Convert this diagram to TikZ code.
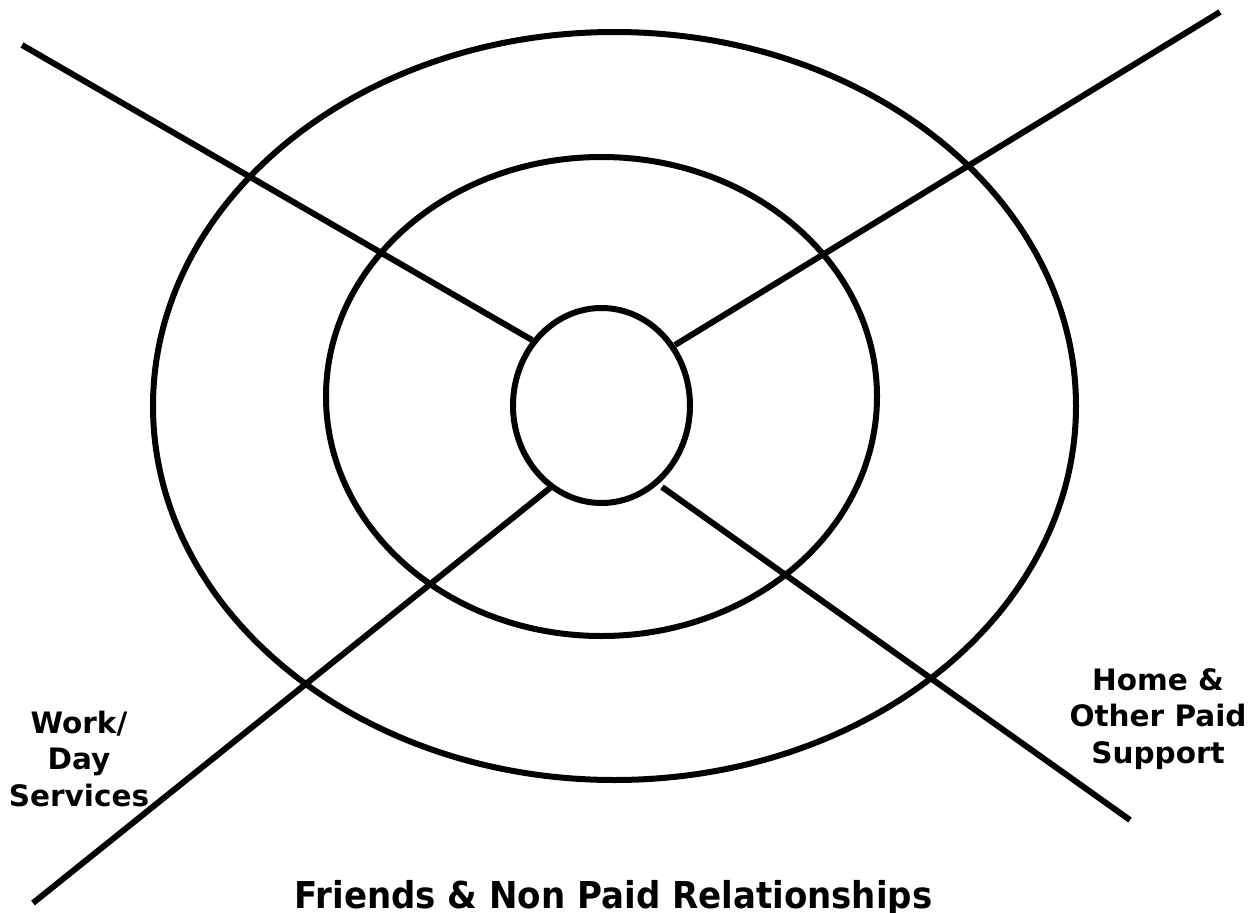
\documentclass[tikz,border=0pt]{standalone}
\usepackage{fontspec}
\setmainfont{DejaVu Sans}
\begin{document}
\begin{tikzpicture}[x=1pt,y=-1pt,
  ring/.style={draw=black,line width=6pt},
  spoke/.style={draw=black,line width=6pt},
  sidelabel/.style={align=center,inner sep=0pt,font=\bfseries\fontsize{29.5}{36.5}\selectfont},
  footlabel/.style={inner sep=0pt,font=\bfseries\fontsize{37}{42}\selectfont}]
\useasboundingbox (0,0) rectangle (1254,913);
% rings
\draw[ring] (614.5,406) ellipse [x radius=461.5, y radius=374];
\draw[ring] (601.5,396.5) ellipse [x radius=275.5, y radius=239.5];
\draw[ring] (601.5,405.5) ellipse [x radius=88.5, y radius=97.5];
% spoke end points
\coordinate (a1) at (22,45);   \coordinate (a2) at (532,340);
\coordinate (b1) at (675,345); \coordinate (b2) at (1220,12);
\coordinate (c1) at (550,488); \coordinate (c2) at (33,903);
\coordinate (d1) at (662,487); \coordinate (d2) at (1130,820);
\draw[spoke] (a1) -- (a2);
\draw[spoke] (b1) -- (b2);
\draw[spoke] (c1) -- (c2);
\draw[spoke] (d1) -- (d2);
% labels (base anchor = baseline of the last line)
\node[sidelabel,anchor=base] (work) at (79,806) {Work/\\Day\\Services};
\node[sidelabel,anchor=base] (home) at (1158,763) {Home \&\\Other Paid\\Support};
\node[footlabel,anchor=base] (friends) at (613.5,908) {\scalebox{0.92}[1]{Friends \& Non Paid Relationships}};
\end{tikzpicture}
\end{document}
